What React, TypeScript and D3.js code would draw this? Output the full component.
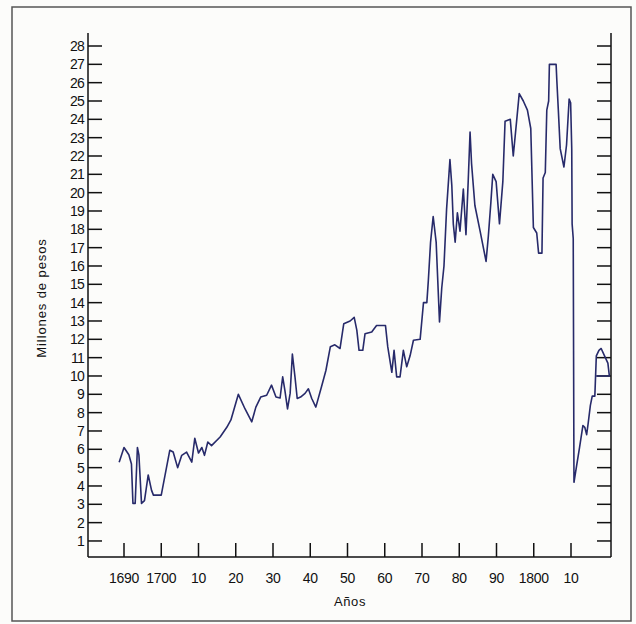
import React from "react";
import * as d3 from "d3";

const years: number[] = [
  1688.7, 1690.0, 1691.3, 1692.0, 1692.4, 1693.0, 1693.6, 1694.0, 1694.7, 1695.5,
  1696.5, 1697.4, 1697.9, 1700.0, 1702.3, 1703.2, 1704.4, 1705.5, 1706.8, 1708.2,
  1709.0, 1710.0, 1710.9, 1711.6, 1712.5, 1713.5, 1715.8, 1717.6, 1718.7, 1720.7,
  1722.5, 1724.3, 1725.4, 1726.7, 1728.3, 1729.6, 1730.8, 1731.9, 1732.6, 1733.2,
  1733.9, 1734.6, 1735.2, 1735.9, 1736.5, 1737.4, 1738.6, 1739.5, 1740.4, 1741.5,
  1743.0, 1744.2, 1745.4, 1746.6, 1748.0, 1749.0, 1750.7, 1751.8, 1752.5, 1753.1,
  1754.1, 1754.7, 1756.5, 1757.8, 1760.2, 1760.8, 1761.9, 1762.5, 1763.2, 1764.1,
  1765.0, 1765.9, 1766.8, 1767.7, 1769.5, 1770.4, 1771.3, 1771.7, 1772.3, 1773.0,
  1773.8, 1774.7, 1775.3, 1775.9, 1776.6, 1777.5, 1778.0, 1778.4, 1778.9, 1779.5,
  1780.2, 1781.1, 1781.8, 1782.4, 1782.9, 1783.3, 1784.2, 1785.6, 1787.2, 1787.8,
  1788.5, 1789.0, 1789.9, 1790.8, 1791.7, 1792.3, 1793.7, 1794.5, 1795.4, 1796.1,
  1797.2, 1798.3, 1799.2, 1799.9, 1800.8, 1801.3, 1802.2, 1802.5, 1803.1, 1803.5,
  1804.0, 1804.2, 1806.0, 1806.2, 1806.6, 1807.1, 1808.1, 1808.8, 1809.5, 1809.9,
  1810.2, 1810.3, 1810.6, 1810.8, 1811.5, 1812.3, 1813.2, 1813.7, 1814.2, 1814.6,
  1815.2, 1815.7, 1816.4, 1816.8, 1817.5, 1818.1, 1819.0, 1819.9, 1820.3, 1816.8,
];

const values: number[] = [
  5.3, 6.1, 5.7, 5.2, 3.05, 3.05, 6.1, 5.7, 3.05, 3.2,
  4.6, 3.76, 3.5, 3.5, 5.95, 5.85, 5.0, 5.67, 5.85, 5.3,
  6.6, 5.8, 6.1, 5.67, 6.4, 6.2, 6.67, 7.2, 7.6, 9.0,
  8.2, 7.5, 8.3, 8.85, 8.95, 9.5, 8.85, 8.8, 9.95, 9.2,
  8.2, 9.05, 11.2, 9.95, 8.77, 8.85, 9.05, 9.3, 8.77, 8.3,
  9.4, 10.3, 11.6, 11.7, 11.5, 12.85, 13.0, 13.2, 12.5, 11.4,
  11.4, 12.3, 12.4, 12.75, 12.75, 11.6, 10.2, 11.4, 9.95, 9.95,
  11.4, 10.5, 11.1, 11.95, 12.0, 14.0, 14.0, 15.2, 17.3, 18.7,
  17.3, 12.95, 14.8, 16.0, 19.1, 21.8, 20.4, 18.3, 17.3, 18.9,
  17.9, 20.2, 17.7, 20.6, 23.3, 21.6, 19.3, 17.9, 16.25, 17.6,
  19.5, 21.0, 20.6, 18.3, 20.6, 23.9, 24.0, 22.0, 23.9, 25.4,
  25.0, 24.5, 23.5, 18.1, 17.8, 16.7, 16.7, 20.8, 21.1, 24.5,
  25.0, 27.0, 27.0, 26.1, 24.5, 22.4, 21.4, 22.6, 25.1, 24.9,
  22.4, 18.3, 17.5, 4.2, 5.1, 6.1, 7.3, 7.2, 6.8, 7.4,
  8.4, 8.9, 8.9, 11.1, 11.4, 11.5, 11.1, 10.7, 10.0, 10.0,
];

const xTickValues: number[] = [1690, 1700, 1710, 1720, 1730, 1740, 1750, 1760, 1770, 1780, 1790, 1800, 1810];
const xTickLabels: string[] = ["1690", "1700", "10", "20", "30", "40", "50", "60", "70", "80", "90", "1800", "10"];
const yTickValues: number[] = d3.range(1, 29);

const W = 636;
const H = 624;
const axisLeft = 88;
const axisRight = 611;
const axisTop = 33;
const axisBottom = 557;
const tickLen = 14;
const lineColor = "#272a6a";
const font = "'Liberation Sans', Arial, sans-serif";

export default function App() {
  const x = d3.scaleLinear().domain([1690, 1810]).range([124, 571]);
  const y = d3.scaleLinear().domain([0, 28]).range([559.3, 46]);
  const pts: [number, number][] = years.map((yr, i) => [yr, values[i]]);
  const line = d3
    .line<[number, number]>()
    .x((d) => x(d[0]))
    .y((d) => y(d[1]));

  return (
    <svg
      width={W}
      height={H}
      style={{ position: "absolute", left: 0, top: 0, display: "block" }}
      fontFamily={font}
    >
      <rect x={0} y={0} width={W} height={H} fill="#fcfcfa" />
      <rect x={12} y={7} width={619} height={614} fill="none" stroke="#555" strokeWidth={1.5} />

      {/* axes */}
      <g stroke="#111" strokeWidth={1.5} fill="none">
        <line x1={axisLeft} y1={axisTop} x2={axisLeft} y2={axisBottom} />
        <line x1={axisRight} y1={axisTop} x2={axisRight} y2={axisBottom} />
        <line x1={axisLeft} y1={axisBottom} x2={axisRight} y2={axisBottom} />
        {yTickValues.map((v) => (
          <g key={"yt" + v}>
            <line x1={axisLeft} y1={y(v)} x2={axisLeft + tickLen} y2={y(v)} />
            <line x1={axisRight} y1={y(v)} x2={axisRight - tickLen} y2={y(v)} />
          </g>
        ))}
        {xTickValues.map((v) => (
          <line key={"xt" + v} x1={x(v)} y1={axisBottom} x2={x(v)} y2={axisBottom - tickLen} />
        ))}
      </g>

      {/* y tick labels */}
      <g fontSize={14} fill="#111" textAnchor="end">
        {yTickValues.map((v) => (
          <text key={"yl" + v} x={axisLeft - 4} y={y(v)} dy="0.36em" letterSpacing={-0.8}>
            {v}
          </text>
        ))}
      </g>

      {/* x tick labels */}
      <g fontSize={14} fill="#111" textAnchor="middle">
        {xTickValues.map((v, i) => (
          <text key={"xl" + v + i} x={x(v)} y={583} letterSpacing={-0.3}>
            {xTickLabels[i]}
          </text>
        ))}
      </g>

      <text x={350} y={606} fontSize={13} fill="#111" textAnchor="middle" letterSpacing={0.6}>
        Años
      </text>
      <text
        transform={`translate(46, 298) rotate(-90)`}
        fontSize={13}
        fill="#111"
        textAnchor="middle"
        letterSpacing={0.9}
      >
        Millones de pesos
      </text>

      <path d={line(pts) || ""} fill="none" stroke={lineColor} strokeWidth={1.6} strokeLinejoin="round" />
    </svg>
  );
}
